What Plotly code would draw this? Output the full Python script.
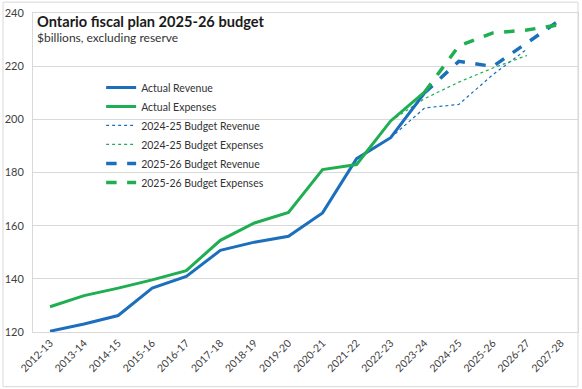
import plotly.graph_objects as go

years = ["2012-13", "2013-14", "2014-15", "2015-16", "2016-17", "2017-18", "2018-19",
         "2019-20", "2020-21", "2021-22", "2022-23", "2023-24", "2024-25", "2025-26",
         "2026-27", "2027-28"]

N = None
actual_revenue = [120.3, 123.0, 126.2, 136.5, 140.9, 150.7, 153.8, 156.0, 164.8, 185.2,
                  193.1, 210.0, N, N, N, N]
actual_expenses = [129.5, 133.7, 136.5, 139.6, 143.1, 154.5, 161.0, 165.0, 181.1, 183.0,
                   199.4, 210.3, N, N, N, N]
budget2425_revenue = [N, N, N, N, N, N, N, N, N, N, 193.1, 204.3, 205.6, 216.8, 226.4, N]
budget2425_expenses = [N, N, N, N, N, N, N, N, N, N, 199.4, 207.8, 214.0, 219.3, 224.0, N]
budget2526_revenue = [N, N, N, N, N, N, N, N, N, N, N, 210.0, 221.8, 219.9, 228.6, 237.6]
budget2526_expenses = [N, N, N, N, N, N, N, N, N, N, N, 210.3, 227.6, 232.5, 233.6, 235.7]

y_ticks = [120, 140, 160, 180, 200, 220, 240]

BLUE = "#1b6fbd"
GREEN = "#1fae52"
FONT = "Lato"

fig = go.Figure()
series = [
    ("Actual Revenue", actual_revenue, BLUE, "solid", 3),
    ("Actual Expenses", actual_expenses, GREEN, "solid", 3),
    ("2024-25 Budget Revenue", budget2425_revenue, BLUE, "dot", 1.2),
    ("2024-25 Budget Expenses", budget2425_expenses, GREEN, "dot", 1.2),
    ("2025-26 Budget Revenue", budget2526_revenue, BLUE, "dash", 3.5),
    ("2025-26 Budget Expenses", budget2526_expenses, GREEN, "dash", 3.5),
]
order = [2, 3, 0, 1, 4, 5]
for i in order:
    name, vals, col, dash, w = series[i]
    fig.add_trace(go.Scatter(
        x=years, y=vals, name=name, mode="lines",
        line=dict(color=col, dash=dash, width=w),
        connectgaps=False, legendrank=i + 1,
    ))

fig.update_layout(
    width=582, height=389,
    margin=dict(l=33, r=4, t=13, b=57, autoexpand=False),
    paper_bgcolor="white", plot_bgcolor="white",
    font=dict(family=FONT, size=11, color="#404040"),
    showlegend=True,
    legend=dict(
        x=0.125, y=0.812, xanchor="left", yanchor="top",
        bgcolor="rgba(255,255,255,0)", borderwidth=0,
        font=dict(family=FONT, size=10.5, color="#333333"),
        tracegroupgap=0, itemwidth=30,
    ),
    xaxis=dict(
        type="category", range=[-0.5, 15.5], tickangle=-45, automargin=False,
        tickfont=dict(family=FONT, size=10.5, color="#404040"),
        showgrid=False, showline=True, linecolor="#d9d9d9", linewidth=1, mirror=True,
        ticks="",
    ),
    yaxis=dict(
        range=[120, 240], tickvals=y_ticks, automargin=False,
        tickfont=dict(family=FONT, size=11, color="#404040"),
        showgrid=True, gridcolor="#d9d9d9", gridwidth=1,
        showline=True, linecolor="#d9d9d9", linewidth=1, mirror=True,
        ticks="", zeroline=False, ticklabelstandoff=6,
    ),
    annotations=[
        dict(text="<b>Ontario fiscal plan 2025-26 budget</b>", xref="paper", yref="paper",
             x=0.004, y=0.973, xanchor="left", yanchor="middle", showarrow=False,
             font=dict(family=FONT, size=14.6, color="#1a1a1a")),
        dict(text="$billions, excluding reserve", xref="paper", yref="paper",
             x=0.004, y=0.923, xanchor="left", yanchor="middle", showarrow=False,
             font=dict(family=FONT, size=12, color="#333333")),
    ],
    shapes=[
        dict(type="rect", xref="paper", yref="paper", x0=-0.055, x1=1.0,
             y0=-0.1715, y1=1.034, line=dict(color="#d9d9d9", width=1), layer="below"),
    ],
)

fig.write_html("out.html", config={"displayModeBar": False},
               post_script="document.body.style.margin='0px';")
